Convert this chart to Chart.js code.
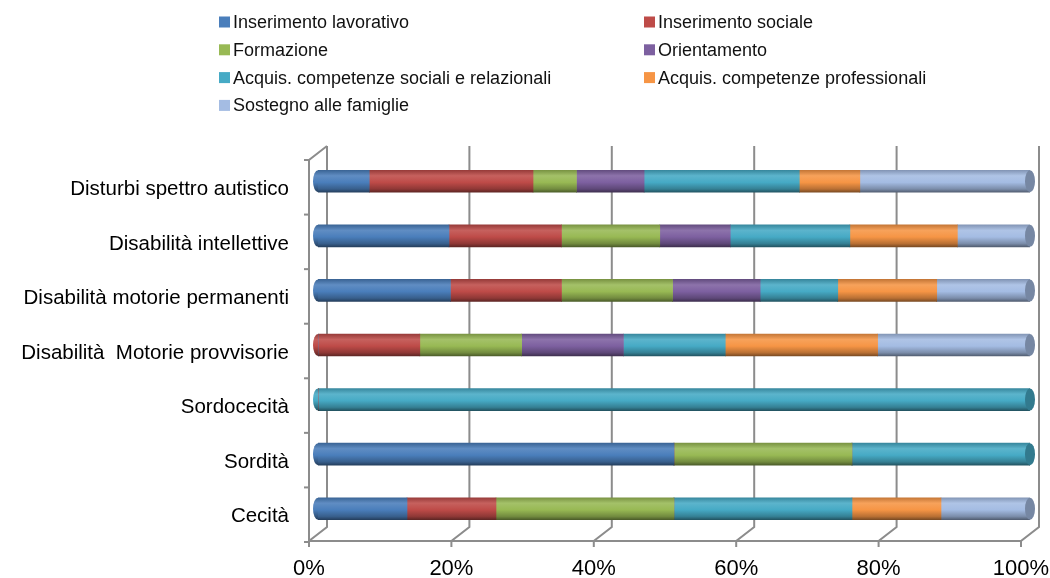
<!DOCTYPE html>
<html>
<head>
  <title>Interventi per tipo di disabilità</title>
  <script src="https://cdn.jsdelivr.net/npm/chart.js"></script>
  <style>
    body { margin: 0; background: #fff; }
    #wrap { width: 1050px; height: 578px; }
  </style>
</head>
<body>
  <div id="wrap"><canvas id="myChart" width="1050" height="578"></canvas></div>

  <script>
    // categorie (dall'alto verso il basso)
    const categories = [
      'Disturbi spettro autistico',
      'Disabilità intellettive',
      'Disabilità motorie permanenti',
      'Disabilità  Motorie provvisorie',
      'Sordocecità',
      'Sordità',
      'Cecità'
    ];

    // percentuali
    const inserimentoLavorativo = [7.2, 18.4, 18.6, 0, 0, 50, 12.5];
    const inserimentoSociale    = [23.0, 15.8, 15.6, 14.3, 0, 0, 12.5];
    const formazione            = [6.1, 13.8, 15.6, 14.3, 0, 25, 25];
    const orientamento          = [9.5, 9.9, 12.3, 14.3, 0, 0, 0];
    const compSociali           = [21.8, 16.8, 10.9, 14.3, 100, 25, 25];
    const compProfessionali     = [8.5, 15.1, 13.9, 21.4, 0, 0, 12.5];
    const sostegnoFamiglie      = [23.9, 10.2, 13.1, 21.4, 0, 0, 12.5];

    const seriesNames = [
      'Inserimento lavorativo', 'Inserimento sociale', 'Formazione', 'Orientamento',
      'Acquis. competenze sociali e relazionali', 'Acquis. competenze professionali',
      'Sostegno alle famiglie'
    ];
    const seriesValues = [
      inserimentoLavorativo, inserimentoSociale, formazione, orientamento,
      compSociali, compProfessionali, sostegnoFamiglie
    ];
    const seriesColors = ['#4a7ebb', '#be4b48', '#98b954', '#7d60a0', '#46aac5', '#f69545', '#a4bce3'];

    const xTicks = [0, 20, 40, 60, 80, 100];

    const FONT = '"Liberation Sans", Arial, sans-serif';
    const BAR_H = 22;

    function shade(hex, f) {
      const n = parseInt(hex.slice(1), 16);
      let r = (n >> 16) & 255, g = (n >> 8) & 255, b = n & 255;
      if (f >= 1) {
        r = r + (255 - r) * (f - 1); g = g + (255 - g) * (f - 1); b = b + (255 - b) * (f - 1);
      } else {
        r *= f; g *= f; b *= f;
      }
      return 'rgb(' + Math.round(r) + ',' + Math.round(g) + ',' + Math.round(b) + ')';
    }

    function cylinderFill(context, color) {
      const chart = context.chart;
      if (!chart.chartArea || context.dataIndex === undefined) return color;
      const yc = chart.scales.y.getPixelForValue(context.dataIndex);
      const g = chart.ctx.createLinearGradient(0, yc - BAR_H / 2, 0, yc + BAR_H / 2);
      g.addColorStop(0, shade(color, 0.8));
      g.addColorStop(0.25, shade(color, 1.12));
      g.addColorStop(0.55, color);
      g.addColorStop(0.85, shade(color, 0.75));
      g.addColorStop(1, shade(color, 0.5));
      return g;
    }

    // pareti, pavimento e griglia in finta prospettiva
    const frame3d = {
      id: 'frame3d',
      beforeDatasetsDraw(chart) {
        const { ctx, chartArea, scales } = chart;
        const x = scales.x;
        const back = 9, front = -9;
        const yTop = chartArea.top - 8, yBack = chartArea.bottom - 9, yFloor = chartArea.bottom + 5;
        ctx.save();
        ctx.strokeStyle = '#8c8c8c';
        ctx.lineWidth = 2;
        xTicks.forEach(v => {
          const px = x.getPixelForValue(v);
          ctx.beginPath();
          ctx.moveTo(px + back, yTop);
          ctx.lineTo(px + back, yBack);
          ctx.lineTo(px + front, yFloor);
          ctx.lineTo(px + front, yFloor + 6);
          ctx.stroke();
        });
        const x0f = x.getPixelForValue(0) + front;
        const x0b = x.getPixelForValue(0) + back;
        const x1f = x.getPixelForValue(100) + front;
        ctx.beginPath();
        ctx.moveTo(x0f, yFloor);
        ctx.lineTo(x1f, yFloor);
        ctx.stroke();
        ctx.beginPath();
        ctx.moveTo(x0b, yTop);
        ctx.lineTo(x0f, chartArea.top + 6);
        ctx.lineTo(x0f, yFloor);
        ctx.stroke();
        const step = (chartArea.bottom - chartArea.top) / categories.length;
        for (let k = 0; k <= categories.length; k++) {
          const yy = chartArea.top + 6 + k * step;
          ctx.beginPath();
          ctx.moveTo(x0f - 5, yy);
          ctx.lineTo(x0f, yy);
          ctx.stroke();
        }
        ctx.restore();
      },
      afterDatasetsDraw(chart) {
        const { ctx } = chart;
        ctx.save();
        categories.forEach((_, i) => {
          const used = seriesValues.map((s, d) => s[i] > 0 ? d : -1).filter(d => d >= 0);
          if (!used.length) return;
          const first = chart.getDatasetMeta(used[0]).data[i];
          const last = chart.getDatasetMeta(used[used.length - 1]).data[i];
          const cFirst = seriesColors[used[0]];
          const cLast = seriesColors[used[used.length - 1]];
          // estremità sinistra arrotondata
          const gl = ctx.createLinearGradient(0, first.y - BAR_H / 2, 0, first.y + BAR_H / 2);
          gl.addColorStop(0, shade(cFirst, 0.8));
          gl.addColorStop(0.25, shade(cFirst, 1.12));
          gl.addColorStop(0.55, cFirst);
          gl.addColorStop(1, shade(cFirst, 0.5));
          ctx.fillStyle = gl;
          ctx.beginPath();
          ctx.ellipse(first.base, first.y, 5, BAR_H / 2, 0, Math.PI / 2, Math.PI * 3 / 2);
          ctx.fill();
          // tappo destro
          ctx.fillStyle = shade(cLast, 0.72);
          ctx.beginPath();
          ctx.ellipse(last.x, last.y, 5, BAR_H / 2, 0, 0, Math.PI * 2);
          ctx.fill();
        });
        ctx.restore();
      },
      afterDraw(chart) {
        const { ctx } = chart;
        ctx.save();
        ctx.font = '18px ' + FONT;
        ctx.textBaseline = 'middle';
        seriesNames.forEach((name, i) => {
          const col = i % 2, row = Math.floor(i / 2);
          const sx = col ? 644 : 219;
          const yc = 22 + row * 27.8;
          ctx.fillStyle = seriesColors[i];
          ctx.fillRect(sx, yc - 5.5, 11, 11);
          ctx.fillStyle = '#111';
          ctx.fillText(name, sx + 14, yc + 1);
        });
        ctx.restore();
      }
    };

    document.addEventListener('DOMContentLoaded', () => {
      const ctx = document.getElementById('myChart').getContext('2d');
      new Chart(ctx, {
        type: 'bar',
        data: {
          labels: categories,
          datasets: seriesNames.map((name, d) => ({
            label: name,
            data: seriesValues[d],
            backgroundColor: c => cylinderFill(c, seriesColors[d]),
            borderWidth: 0,
            barThickness: BAR_H
          }))
        },
        options: {
          indexAxis: 'y',
          responsive: false,
          animation: false,
          layout: { padding: { top: 154, right: 20, bottom: 0, left: 0 } },
          plugins: { legend: { display: false }, tooltip: { enabled: false } },
          scales: {
            x: {
              stacked: true,
              min: 0,
              max: 100,
              afterFit: s => { s.height = 42; s.paddingLeft = 0; s.paddingRight = 0; },
              afterBuildTicks: s => { s.ticks = xTicks.map(v => ({ value: v })); },
              grid: { display: false },
              border: { display: false },
              ticks: {
                padding: 12,
                labelOffset: -9,
                color: '#000',
                font: { family: FONT, size: 22 },
                callback: v => v + '%'
              }
            },
            y: {
              stacked: true,
              afterFit: s => { s.width = 318; s.paddingTop = 0; s.paddingBottom = 0; },
              grid: { display: false },
              border: { display: false },
              ticks: {
                padding: 21,
                labelOffset: 8,
                color: '#000',
                font: { family: FONT, size: 20.5 }
              }
            }
          }
        },
        plugins: [frame3d]
      });
    });
  </script>
</body>
</html>
